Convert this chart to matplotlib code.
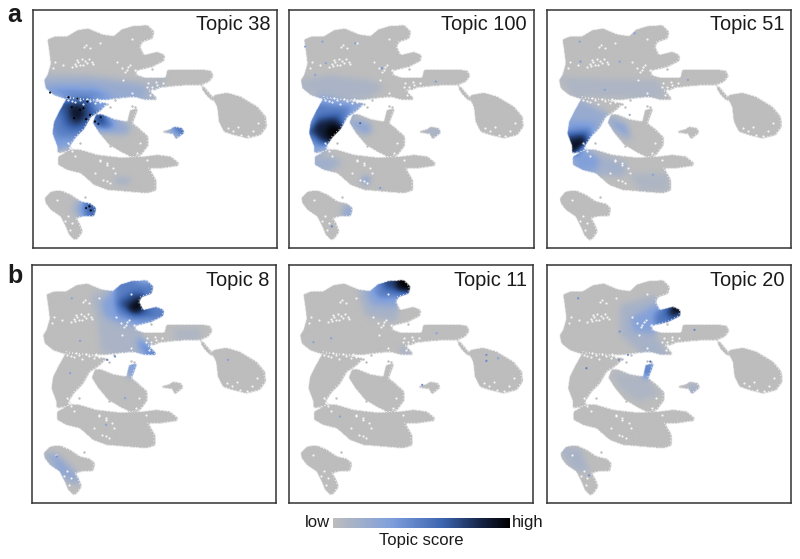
import matplotlib
matplotlib.use("Agg")
import numpy as np
import matplotlib.pyplot as plt
from matplotlib.colors import LinearSegmentedColormap
from matplotlib.path import Path

plt.rcParams['font.family'] = ['Liberation Sans', 'DejaVu Sans']

# colour stops
cbar_stops = [0.0, 0.33, 0.62, 0.85, 1.0]
cbar_colors = ['#bdbdbd', '#7f9fdc', '#3c65b0', '#14213f', '#000000']
score_cmap = LinearSegmentedColormap.from_list('topic', list(zip(cbar_stops, cbar_colors)))

# outline of the embedding
upper_body = [(140,118),(165,108),(200,108),(230,90),(262,85),(305,103),(340,108),(362,88),(395,78),(440,75),
              (460,95),(455,115),(425,125),(418,140),(430,165),(470,155),(492,165),(490,182),(455,200),(405,212),
              (408,225),(430,232),(495,232),(500,208),(535,208),(600,208),(630,212),(638,228),(625,245),(600,255),
              (560,255),(520,258),(480,262),(460,270),(445,270),(468,295),(465,300),(430,298),(400,290),(350,295),
              (310,300),(270,298),(190,295),(160,285),(135,265),(130,240),(140,225),(150,190),(145,150)]
left_arm = [(200,290),(320,310),(300,330),(270,350),(250,385),(225,410),(205,440),(215,450),(170,460),(170,440),
            (155,400),(160,365),(175,335)]
lower_band = [(172,470),(215,448),(240,450),(290,465),(350,472),(400,472),(430,470),(470,465),(510,470),(535,490),
              (530,498),(480,505),(445,505),(465,540),(465,572),(440,580),(380,575),(320,570),(280,555),(240,520),
              (200,510),(172,495)]
mid_blob = [(285,345),(300,342),(340,358),(380,365),(388,330),(412,325),(395,370),(415,385),(442,410),(442,437),
            (422,464),(395,472),(365,458),(325,434),(295,398),(276,368)]
oval = [(640,285),(680,278),(720,290),(770,320),(795,350),(798,380),(780,405),(740,415),(700,405),(670,395),
        (655,365),(650,320),(640,300)]
thin_tail = [(600,255),(612,262),(635,290),(642,302),(632,300),(612,280)]
island = [(482,395),(510,388),(520,380),(545,385),(550,398),(535,410),(525,418),(518,402),(490,398)]
bottom_left = [(132,595),(150,575),(180,572),(210,585),(240,605),(270,612),(285,625),(280,648),(245,650),(225,655),
               (235,670),(245,695),(232,715),(222,722),(205,705),(195,680),(180,650),(150,630),(135,610)]
clusters = [upper_body, left_arm, lower_band, mid_blob, oval, thin_tail, island, bottom_left]

# gaps in the cloud
gap_x = [235,225,245,262,275,258,252,270,215,190,165,160,380,365,390,350,300,395,405,
         445,455,470,480,462,450,440,490,230,260,290,215,205,225,240,320,330,310,345,
         300,320,225,215,210,205,420,410,700,725,760,745,715,775,685,
         205,215,195,210,170,370,395,300,320,340,285,440,
         232,240,250,228,268,280,255,375,385,455,468,475,300,285,270,250]
gap_y = [185,192,178,190,185,135,140,145,200,195,185,205,210,205,195,185,130,118,210,
         250,262,255,268,275,285,262,250,295,297,298,303,300,305,300,545,550,540,520,
         480,490,468,455,445,430,430,460,395,405,395,410,380,370,385,
         650,670,665,690,600,240,280,485,495,505,520,480,
         180,195,195,198,178,192,182,215,202,270,245,278,305,310,302,312]
stray_x = [320,330,405,395,455,610,625,640,255,330,360,375,420,240,345]
stray_y = [312,320,322,318,208,268,285,295,592,440,445,455,442,430,300]

# score regions of each topic: (score, outline), in each panel's own pixels
topic_38 = [(0.08,[(130,215),(300,225),(440,245),(500,230),(480,262),(465,300),(300,310),(130,275)]),
            (0.20,[(130,240),(260,235),(430,255),(440,290),(300,300),(140,275)]),
            (0.42,[(135,262),(280,265),(340,290),(250,300),(170,285)]),
            (0.34,[(190,290),(320,310),(250,390),(210,440),(170,450),(150,400),(165,340)]),
            (0.50,[(180,310),(270,300),(290,330),(250,385),(215,410),(170,410),(160,380)]),
            (0.68,[(190,300),(265,295),(280,340),(240,385),(215,390),(190,375),(180,335)]),
            (0.90,[(205,315),(245,315),(252,345),(226,372),(208,350)]),
            (0.22,[(285,345),(340,358),(385,375),(385,400),(345,405),(300,395),(275,368)]),
            (0.56,[(280,340),(312,348),(345,378),(310,390),(288,380)]),
            (0.78,[(283,345),(307,345),(312,372),(288,375)]),
            (0.34,[(505,388),(520,380),(548,385),(550,400),(530,405),(512,398)]),
            (0.60,[(520,383),(550,386),(550,402),(530,402)]),
            (0.12,[(215,605),(270,612),(285,625),(280,650),(225,650),(210,630)]),
            (0.42,[(240,605),(275,612),(285,625),(280,650),(245,650),(235,630)]),
            (0.66,[(255,612),(288,618),(285,642),(258,642)]),
            (0.16,[(340,535),(390,535),(385,550),(345,550)])]
topic_100 = [(0.10,[(45,240),(130,225),(250,240),(300,260),(250,290),(110,290),(60,270)]),
             (0.28,[(95,285),(235,310),(165,375),(125,445),(90,470),(85,440),(70,395),(90,340)]),
             (0.26,[(190,355),(250,370),(260,395),(235,405),(205,380)]),
             (0.50,[(100,310),(200,320),(165,375),(125,435),(95,440),(70,400),(85,350)]),
             (0.68,[(95,350),(165,340),(170,375),(125,430),(105,428),(70,395)]),
             (0.86,[(85,368),(145,355),(172,378),(130,428),(108,425),(80,395)]),
             (1.00,[(120,385),(152,372),(165,388),(125,420)]),
             (0.16,[(85,470),(140,470),(170,490),(130,510),(90,500)]),
             (0.50,[(232,532),(248,532),(248,548),(232,548)]),
             (0.22,[(170,620),(200,622),(195,650),(170,650)]),
             (0.18,[(420,390),(465,390),(462,405),(430,400)])]
topic_51 = [(0.08,[(55,230),(350,240),(380,290),(100,290)]),
            (0.20,[(110,295),(205,340),(160,400),(130,440),(100,460),(85,440),(78,400),(85,350)]),
            (0.36,[(90,365),(170,370),(140,420),(100,470),(85,420)]),
            (0.60,[(78,395),(155,390),(135,425),(105,470),(88,450)]),
            (0.84,[(85,410),(138,402),(136,428),(105,468),(92,448)]),
            (1.00,[(100,430),(135,417),(128,438),(104,450)]),
            (0.14,[(95,470),(130,450),(260,490),(250,530),(130,520)]),
            (0.32,[(95,470),(130,450),(175,475),(170,510),(110,505)]),
            (0.28,[(205,350),(260,375),(270,420),(240,400),(215,375)]),
            (0.08,[(260,520),(380,520),(385,570),(300,570)])]
topic_8 = [(0.10,[(270,120),(395,78),(460,95),(490,165),(455,205),(420,240),(440,300),(300,290),(290,200)]),
           (0.30,[(300,140),(370,85),(455,90),(458,115),(425,125),(418,140),(490,165),(490,180),(420,215),(340,200),(310,180)]),
           (0.50,[(340,110),(370,75),(462,85),(458,115),(425,125),(418,145),(495,165),(495,185),(400,195),(350,180)]),
           (0.72,[(345,145),(395,112),(428,108),(422,165),(470,177),(400,182),(375,165)]),
           (0.96,[(378,155),(410,130),(423,125),(420,166),(396,174)]),
           (0.44,[(410,245),(440,265),(470,298),(440,300),(415,280)]),
           (0.32,[(380,365),(388,330),(412,325),(405,370)]),
           (0.24,[(132,595),(170,600),(220,650),(235,690),(205,680),(170,645)]),
           (0.08,[(520,220),(600,220),(600,250),(520,250)])]
topic_11 = [(0.12,[(215,110),(280,90),(380,80),(340,160),(330,200),(240,180)]),
            (0.28,[(240,115),(285,78),(375,75),(370,105),(335,125),(330,155),(260,150)]),
            (0.50,[(265,115),(290,70),(380,70),(370,105),(335,125),(290,130)]),
            (0.74,[(290,80),(340,70),(382,80),(370,105),(340,110),(300,100)]),
            (1.00,[(332,68),(375,68),(385,95),(365,112),(335,102)]),
            (0.14,[(340,270),(380,290),(350,295)])]
topic_20 = [(0.12,[(240,150),(340,120),(410,160),(345,240),(385,300),(300,290),(240,240)]),
            (0.30,[(270,190),(340,150),(415,160),(400,190),(340,235),(280,230)]),
            (0.54,[(345,170),(410,155),(415,175),(380,200),(340,205)]),
            (0.82,[(372,170),(410,150),(420,172),(395,192)]),
            (1.00,[(395,152),(422,155),(422,176),(400,182)]),
            (0.08,[(210,350),(320,375),(360,420),(290,440),(240,400)]),
            (0.46,[(305,335),(335,325),(330,370),(305,368)]),
            (0.16,[(445,390),(475,395),(460,415),(445,410)]),
            (0.12,[(55,580),(120,585),(150,660),(100,640)])]

# single cells that stand out from their neighbours: x, y, score
specks_38 = [(205,292,1),(232,296,1),(262,305,1),(150,278,.9),(270,345,1),(285,365,1),(295,372,.9),(250,325,1),
             (215,322,1),(240,330,1),(222,355,1),(268,620,1),(272,632,1),(258,625,.9),(302,352,.9),(258,358,1)]
specks_100 = [(60,140,.3),(112,125,.3),(290,205,.4),(122,190,.3),(90,225,.3),(452,245,.35),(285,565,.35),(140,680,.45),
              (210,130,.3),(225,370,.6)]
specks_51 = [(120,125,.3),(285,100,.3),(122,185,.35),(240,185,.3),(270,345,.2),(195,270,.3),(445,240,.3),(340,525,.3)]
specks_8 = [(215,130,.3),(210,355,.3),(685,315,.3),(375,430,.3),(318,510,.3),(170,605,.4),(240,258,.3),(345,305,.4),(322,315,.45)]
specks_11 = [(605,300,.4),(605,318,.45),(640,310,.3),(138,250,.3),(412,390,.4),(455,235,.3),(165,485,.3),(85,262,.3)]
specks_20 = [(115,130,.4),(140,340,.5),(332,320,.55),(238,315,.4),(465,225,.45),(265,300,.4),(240,230,.4),(148,662,.4)]

titles = ['Topic 38', 'Topic 100', 'Topic 51', 'Topic 8', 'Topic 11', 'Topic 20']
topics = [topic_38, topic_100, topic_51, topic_8, topic_11, topic_20]
specks = [specks_38, specks_100, specks_51, specks_8, specks_11, specks_20]

# frame of each panel in figure pixels: left, top, right, bottom
W, H = 800, 559
frames = [(32.5,10,277,248), (288.5,10,533.5,248), (546.5,10,791,248),
          (31.5,265,276,503), (288.5,265,533,503), (546.5,265,791,503)]
frame_left = [97, 10, 20, 94, 10, 20]
shape_shift = [0, -85, -74, -3, -87, -72]
GRID_STEP = 2


def blur(a, sigma):
    # gaussian smoothing along both axes
    r = int(3 * sigma)
    k = np.exp(-0.5 * (np.arange(-r, r + 1) / sigma) ** 2)
    k /= k.sum()
    a = np.array([np.convolve(row, k, mode='same') for row in a])
    return np.array([np.convolve(col, k, mode='same') for col in a.T]).T


fig = plt.figure(figsize=(8, 5.59), dpi=100)


def draw_panel(frame, left, shift, layers, dots, title):
    x0, y0, x1, y1 = frame
    ax = fig.add_axes([x0 / W, 1 - y1 / H, (x1 - x0) / W, (y1 - y0) / H])

    gx = np.arange(left, left + 735, GRID_STEP)
    gy = np.arange(30, 745, GRID_STEP)
    xx, yy = np.meshgrid(gx, gy)
    grid_pts = np.column_stack([xx.ravel(), yy.ravel()])

    mask = np.zeros(xx.shape)
    for c in clusters:
        inside = Path([(px + shift, py) for px, py in c]).contains_points(grid_pts)
        mask = np.maximum(mask, inside.reshape(xx.shape))

    field = np.zeros(xx.shape)
    for score, poly in layers:
        inside = Path(poly).contains_points(grid_pts)
        field = np.maximum(field, inside.reshape(xx.shape) * score)

    # smooth the scores inside the cloud only, so the edges keep their value
    field = blur(field * mask, 5) / np.maximum(blur(mask, 5), 1e-3)
    rgba = score_cmap(np.clip(field, 0, 1))
    rgba[..., 3] = np.clip((blur(mask, 1.5) - 0.25) / 0.35, 0, 1)
    ax.imshow(rgba, extent=(gx[0], gx[-1], gy[-1], gy[0]), aspect='auto', interpolation='bilinear', zorder=1)

    ax.set_xlim(left, left + 735)
    ax.set_ylim(745, 30)
    ax.set_xticks([])
    ax.set_yticks([])
    for s in ax.spines.values():
        s.set_linewidth(1.1)
        s.set_color('#333333')

    # rough edge of the cloud, then gaps and stray cells
    for c in clusters:
        pts = [(px + shift, py) for px, py in c]
        ax.add_patch(plt.Polygon(pts, closed=True, facecolor='none', edgecolor='white', lw=0.6,
                                 linestyle=(0, (1, 3)), zorder=3))
    ax.scatter(np.array(gap_x) + shift, gap_y, s=2.5, color='white', alpha=0.85, linewidths=0, zorder=4)
    ax.scatter(np.array(stray_x) + shift, stray_y, s=3, color=score_cmap(0.0), linewidths=0, zorder=4)
    sx, sy, sc = zip(*dots)
    ax.scatter(sx, sy, s=2.5, c=sc, cmap=score_cmap, vmin=0, vmax=1, linewidths=0, zorder=5)
    ax.text(1 - 6.5 / (x1 - x0), 1 - 15 / (y1 - y0), title, transform=ax.transAxes, ha='right', va='center',
            fontsize=14.4, color='#1a1a1a')


for frame, left, shift, layers, dots, title in zip(frames, frame_left, shape_shift, topics, specks, titles):
    draw_panel(frame, left, shift, layers, dots, title)

fig.text(7 / W, 1 - 15 / H, 'a', fontsize=18, fontweight='bold', va='center', color='#1a1a1a')
fig.text(7 / W, 1 - 276 / H, 'b', fontsize=18, fontweight='bold', va='center', color='#1a1a1a')

# colour bar
cax = fig.add_axes([333 / W, 1 - 528 / H, 177 / W, 10 / H])
cax.imshow(np.linspace(0, 1, 256).reshape(1, -1), cmap=score_cmap, aspect='auto')
cax.axis('off')
fig.text(330 / W, 1 - 522.5 / H, 'low', fontsize=12, ha='right', va='center', color='#1a1a1a')
fig.text(512 / W, 1 - 522.5 / H, 'high', fontsize=12, ha='left', va='center', color='#1a1a1a')
fig.text(421 / W, 1 - 541 / H, 'Topic score', fontsize=12, ha='center', va='center', color='#1a1a1a')

fig.savefig('out.png', dpi=100)
